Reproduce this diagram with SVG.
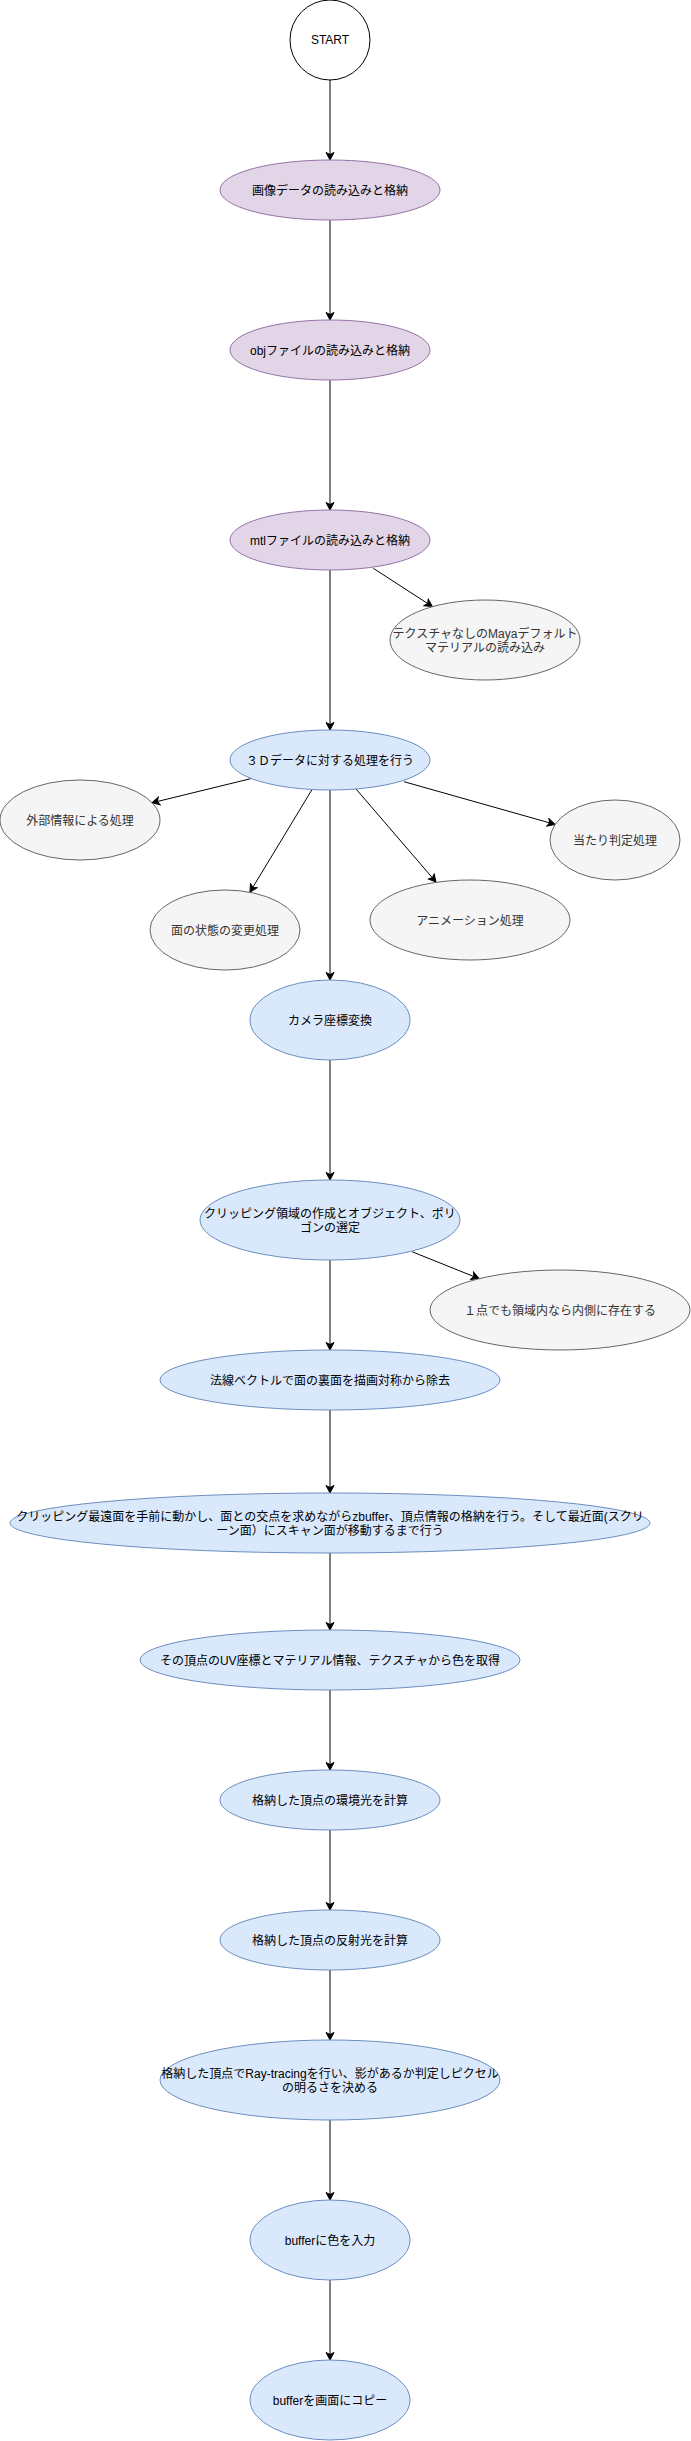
<svg xmlns="http://www.w3.org/2000/svg" width="691" height="2441" viewBox="0 0 691 2441">
<style>
text{font-family:"Liberation Sans","Noto Sans CJK JP",sans-serif;font-size:12px;text-anchor:middle;fill:#000}
.purple{fill:#e1d5e7;stroke:#9673a6;stroke-width:1}
.blue{fill:#dae8fc;stroke:#6c8ebf;stroke-width:1}
.gray{fill:#f5f5f5;stroke:#666666;stroke-width:1}
.gray+text,.gt{fill:#333333}
.white{fill:#ffffff;stroke:#000000;stroke-width:1}
.edge{fill:none;stroke:#000;stroke-width:1;marker-end:url(#arr)}
</style>
<defs>
<marker id="arr" markerUnits="userSpaceOnUse" viewBox="-8 -5 9 10" refX="0" refY="0" markerWidth="9" markerHeight="10" orient="auto">
<path d="M0,0 L-7.5,-4 L-5.5,0 L-7.5,4 z" fill="#000" stroke="#000" stroke-width="1"/>
</marker>
</defs>
<rect width="691" height="2441" fill="#ffffff"/>
<g id="connectors">
<path class="edge" d="M330,80 L330,160"/>
<path class="edge" d="M330,220 L330,320"/>
<path class="edge" d="M330,380 L330,510"/>
<path class="edge" d="M373.3,568.3 L432.3,606.5"/>
<path class="edge" d="M330,570 L330,730"/>
<path class="edge" d="M251,778.6 L152,802.8"/>
<path class="edge" d="M312,789.6 L250,892"/>
<path class="edge" d="M356,789 L436,882"/>
<path class="edge" d="M404,781.7 L555,824.4"/>
<path class="edge" d="M330,790 L330,980"/>
<path class="edge" d="M330,1060 L330,1180"/>
<path class="edge" d="M412,1251.7 L479,1278.6"/>
<path class="edge" d="M330,1260 L330,1350"/>
<path class="edge" d="M330,1410 L330,1493"/>
<path class="edge" d="M330,1553 L330,1630"/>
<path class="edge" d="M330,1690 L330,1770"/>
<path class="edge" d="M330,1830 L330,1910"/>
<path class="edge" d="M330,1970 L330,2040"/>
<path class="edge" d="M330,2120 L330,2200"/>
<path class="edge" d="M330,2280 L330,2360"/>
</g>
<g id="start"><circle class="white" cx="330" cy="40" r="40"/><text x="330" y="44">START</text></g>
<g id="n1"><ellipse class="purple" cx="330" cy="190" rx="110" ry="30"/><text x="330" y="194.5">画像データの読み込みと格納</text></g>
<g id="n2"><ellipse class="purple" cx="330" cy="350" rx="100" ry="30"/><text x="330" y="354.5">objファイルの読み込みと格納</text></g>
<g id="n3"><ellipse class="purple" cx="330" cy="540" rx="100" ry="30"/><text x="330" y="544.5">mtlファイルの読み込みと格納</text></g>
<g id="n4"><ellipse class="gray" cx="485" cy="640" rx="95" ry="40"/><text class="gt" x="485" y="637.5">テクスチャなしのMayaデフォルト</text><text class="gt" x="485" y="651.5">マテリアルの読み込み</text></g>
<g id="n5"><ellipse class="blue" cx="330" cy="760" rx="100" ry="30"/><text x="330" y="764.5">３Ｄデータに対する処理を行う</text></g>
<g id="n6"><ellipse class="gray" cx="80" cy="820" rx="80" ry="40"/><text class="gt" x="80" y="824.5">外部情報による処理</text></g>
<g id="n7"><ellipse class="gray" cx="225" cy="930" rx="75" ry="40"/><text class="gt" x="225" y="934.5">面の状態の変更処理</text></g>
<g id="n8"><ellipse class="gray" cx="470" cy="920" rx="100" ry="40"/><text class="gt" x="470" y="924.5">アニメーション処理</text></g>
<g id="n9"><ellipse class="gray" cx="615" cy="840" rx="65" ry="40"/><text class="gt" x="615" y="844.5">当たり判定処理</text></g>
<g id="n10"><ellipse class="blue" cx="330" cy="1020" rx="80" ry="40"/><text x="330" y="1024.5">カメラ座標変換</text></g>
<g id="n11"><ellipse class="blue" cx="330" cy="1220" rx="130" ry="40"/><text x="330" y="1217.5">クリッピング領域の作成とオブジェクト、ポリ</text><text x="330" y="1231.5">ゴンの選定</text></g>
<g id="n12"><ellipse class="gray" cx="560" cy="1310" rx="130" ry="40"/><text class="gt" x="560" y="1314.5">１点でも領域内なら内側に存在する</text></g>
<g id="n13"><ellipse class="blue" cx="330" cy="1380" rx="170" ry="30"/><text x="330" y="1384.5">法線ベクトルで面の裏面を描画対称から除去</text></g>
<g id="n14"><ellipse class="blue" cx="330" cy="1523" rx="320" ry="30"/><text x="330" y="1520.5">クリッピング最遠面を手前に動かし、面との交点を求めながらzbuffer、頂点情報の格納を行う。そして最近面(スクリ</text><text x="330" y="1534.5">ーン面）にスキャン面が移動するまで行う</text></g>
<g id="n15"><ellipse class="blue" cx="330" cy="1660" rx="190" ry="30"/><text x="330" y="1664.5">その頂点のUV座標とマテリアル情報、テクスチャから色を取得</text></g>
<g id="n16"><ellipse class="blue" cx="330" cy="1800" rx="110" ry="30"/><text x="330" y="1804.5">格納した頂点の環境光を計算</text></g>
<g id="n17"><ellipse class="blue" cx="330" cy="1940" rx="110" ry="30"/><text x="330" y="1944.5">格納した頂点の反射光を計算</text></g>
<g id="n18"><ellipse class="blue" cx="330" cy="2080" rx="170" ry="40"/><text x="330" y="2077.5">格納した頂点でRay-tracingを行い、影があるか判定しピクセル</text><text x="330" y="2091.5">の明るさを決める</text></g>
<g id="n19"><ellipse class="blue" cx="330" cy="2240" rx="80" ry="40"/><text x="330" y="2244.5">bufferに色を入力</text></g>
<g id="n20"><ellipse class="blue" cx="330" cy="2400" rx="80" ry="40"/><text x="330" y="2404.5">bufferを画面にコピー</text></g>
</svg>
